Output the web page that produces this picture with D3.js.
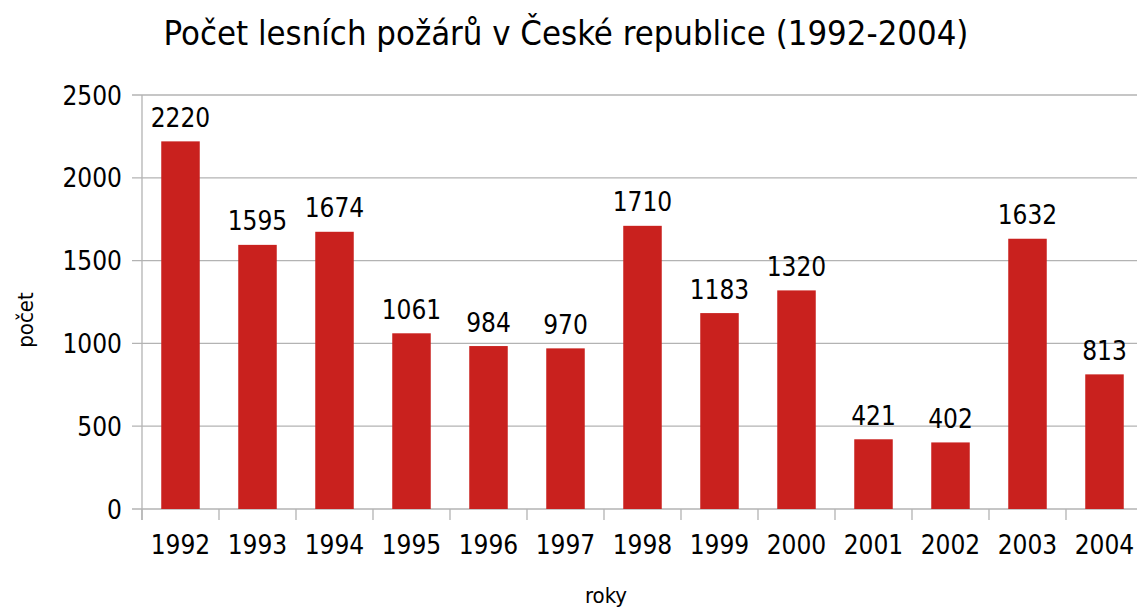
<!DOCTYPE html>
<html>
<head>
<meta charset="utf-8">
<script src="https://cdn.jsdelivr.net/npm/d3@7"></script>
<style>
  html, body { margin: 0; padding: 0; background: #fff; }
  svg { display: block; }
  text { font-family: "DejaVu Sans", Verdana, sans-serif; font-stretch: condensed; fill: #000; }
</style>
</head>
<body>
<svg id="chart" width="1137" height="610"></svg>
<script>
const years = ["1992","1993","1994","1995","1996","1997","1998","1999","2000","2001","2002","2003","2004"];
const fires = [2220,1595,1674,1061,984,970,1710,1183,1320,421,402,1632,813];
const yTicks = [0,500,1000,1500,2000,2500];
const title = "Počet lesních požárů v České republice (1992-2004)";
const xTitle = "roky";
const yTitle = "počet";

const svg = d3.select("#chart");
const plotLeft = 142, plotRight = 1143, plotTop = 95, plotBottom = 509;

const x = d3.scaleBand().domain(years).range([plotLeft, plotRight]).paddingInner(0.5).paddingOuter(0.25);
const xb = d3.scaleBand().domain(years).range([plotLeft, plotRight]).padding(0);
const y = d3.scaleLinear().domain([0, 2500]).range([plotBottom, plotTop]);

const grid = "#b3b3b3";

svg.append("g").selectAll("line").data(yTicks).join("line")
  .attr("x1", plotLeft - 10).attr("x2", plotRight)
  .attr("y1", d => y(d)).attr("y2", d => y(d))
  .attr("stroke", grid).attr("stroke-width", 1.3);

svg.append("line").attr("x1", plotLeft).attr("x2", plotLeft)
  .attr("y1", y(2500)).attr("y2", plotBottom + 11)
  .attr("stroke", grid).attr("stroke-width", 1.3);

svg.append("g").selectAll("line").data(years).join("line")
  .attr("x1", d => xb(d)).attr("x2", d => xb(d))
  .attr("y1", plotBottom).attr("y2", plotBottom + 11)
  .attr("stroke", grid).attr("stroke-width", 1.3);

svg.append("g").selectAll("rect").data(years).join("rect")
  .attr("x", d => x(d)).attr("width", x.bandwidth())
  .attr("y", (d, i) => y(fires[i]))
  .attr("height", (d, i) => y(0) - y(fires[i]))
  .attr("fill", "#c9211e");

svg.append("g").selectAll("text").data(years).join("text")
  .attr("x", d => x(d) + x.bandwidth() / 2)
  .attr("y", (d, i) => y(fires[i]) - 14.5)
  .attr("text-anchor", "middle")
  .attr("font-size", 26)
  .text((d, i) => fires[i]);

svg.append("g").selectAll("text").data(yTicks).join("text")
  .attr("x", 122).attr("y", d => y(d) + 9.5)
  .attr("text-anchor", "end")
  .attr("font-size", 26)
  .text(d => d);

svg.append("g").selectAll("text").data(years).join("text")
  .attr("x", d => x(d) + x.bandwidth() / 2)
  .attr("y", 554)
  .attr("text-anchor", "middle")
  .attr("font-size", 26)
  .text(d => d);

svg.append("text").attr("x", 566).attr("y", 45)
  .attr("text-anchor", "middle").attr("font-size", 34.4).text(title);

svg.append("text").attr("x", 606).attr("y", 603)
  .attr("text-anchor", "middle").attr("font-size", 22).text(xTitle);
svg.append("text").attr("transform", "translate(33,320) rotate(-90)")
  .attr("text-anchor", "middle").attr("font-size", 22).text(yTitle);
</script>
</body>
</html>
